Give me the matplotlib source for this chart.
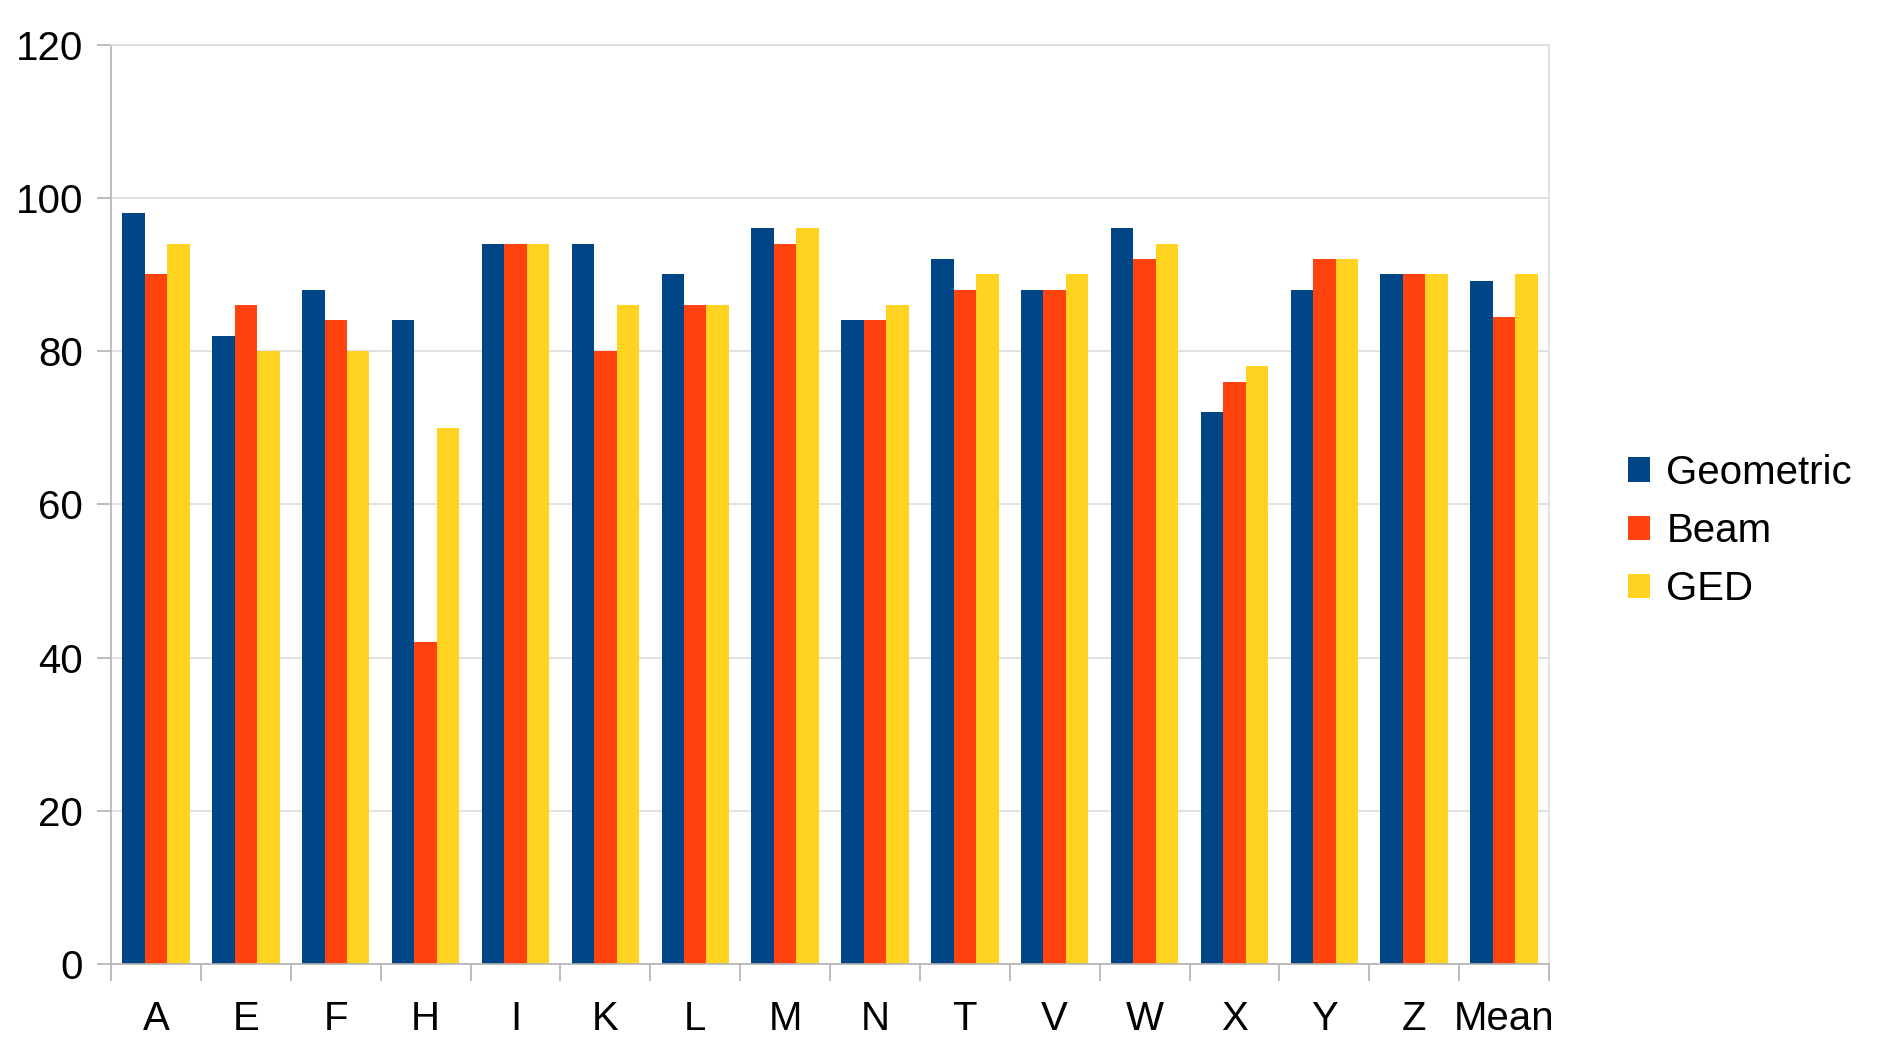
import numpy as np
import matplotlib.pyplot as plt

categories = ["A", "E", "F", "H", "I", "K", "L", "M", "N", "T", "V", "W", "X", "Y", "Z", "Mean"]
geometric = [98, 82, 88, 84, 94, 94, 90, 96, 84, 92, 88, 96, 72, 88, 90, 89.1]
beam = [90, 86, 84, 42, 94, 80, 86, 94, 84, 88, 88, 92, 76, 92, 90, 84.4]
ged = [94, 80, 80, 70, 94, 86, 86, 96, 86, 90, 90, 94, 78, 92, 90, 90]

series = [("Geometric", geometric, "#004586"),
          ("Beam", beam, "#ff420e"),
          ("GED", ged, "#ffd320")]

plt.rcParams["font.family"] = ["Liberation Sans", "DejaVu Sans"]

fig = plt.figure(figsize=(18.92, 10.62), dpi=100)
ax = fig.add_axes([0.0587, 0.0923, 0.7600, 0.8657])

x = np.arange(len(categories))
w = 0.25
for i, (name, vals, color) in enumerate(series):
    ax.bar(x + (i - 1) * w, vals, width=w, color=color, label=name, zorder=2)

ax.set_xlim(-0.5, len(categories) - 0.5)
ax.set_ylim(0, 120)
ax.set_yticks(np.arange(0, 121, 20))
ax.yaxis.grid(True, color="#dddddd", linewidth=1.2, zorder=0)
ax.set_axisbelow(True)

ax.set_xticks(x)
ax.set_xticklabels(categories)
ax.set_xticks(np.arange(-0.5, len(categories)), minor=True)
ax.tick_params(axis="x", which="major", length=0, pad=26, labelsize=29)
ax.tick_params(axis="x", which="minor", length=12, color="#b3b3b3", width=1.2)
ax.tick_params(axis="y", length=10, color="#b3b3b3", width=1.2, pad=10, labelsize=29)

for side in ["left", "bottom", "top", "right"]:
    ax.spines[side].set_color("#b3b3b3")
    ax.spines[side].set_linewidth(1.2)
ax.spines["top"].set_color("#dddddd")
ax.spines["right"].set_color("#dddddd")

fig.legend(loc="center left", bbox_to_anchor=(0.852, 0.5), frameon=False,
           fontsize=29, handlelength=0.55, handleheight=0.55,
           handletextpad=0.4, labelspacing=0.5, borderaxespad=0)

fig.savefig("out.png", dpi=100)
